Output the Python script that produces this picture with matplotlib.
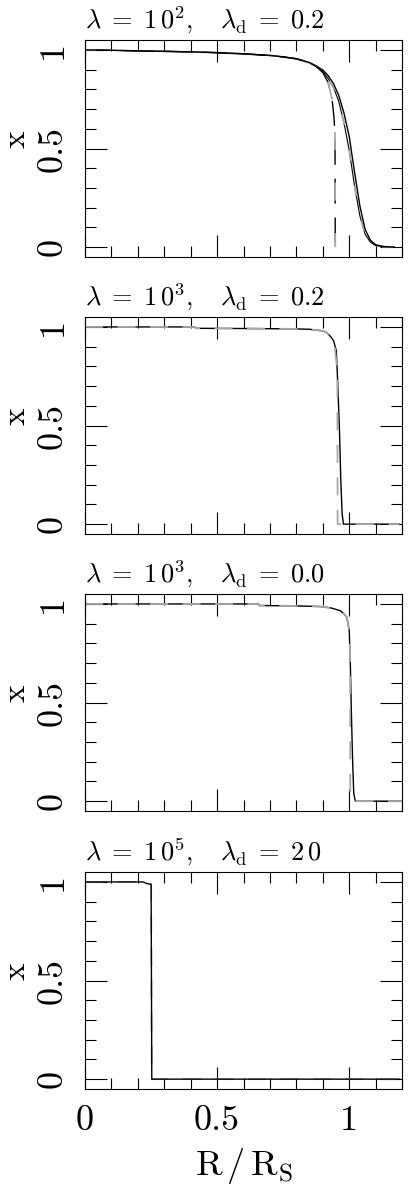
import numpy as np
import matplotlib
matplotlib.use("Agg")
import matplotlib.pyplot as plt
from matplotlib.ticker import MultipleLocator, FixedLocator

plt.rcParams['font.family'] = 'cmr10'
plt.rcParams['mathtext.fontset'] = 'cm'
plt.rcParams['axes.formatter.use_mathtext'] = True

titles = [r'$\lambda\;=\;1\,0^2,\ \ \ \lambda_{\rm d}\;=\;0.2$',
          r'$\lambda\;=\;1\,0^3,\ \ \ \lambda_{\rm d}\;=\;0.2$',
          r'$\lambda\;=\;1\,0^3,\ \ \ \lambda_{\rm d}\;=\;0.0$',
          r'$\lambda\;=\;1\,0^5,\ \ \ \lambda_{\rm d}\;=\;2\,0$']
xticks = [0, 0.5, 1]
xtick_labels = ['0', '0.5', '1']
yticks = [0, 0.5, 1]
ytick_labels = ['0', '0.5', '1']

# panel 1
x1 = [0, 0.1, 0.2, 0.3, 0.4, 0.5, 0.6, 0.7, 0.75, 0.8, 0.85, 0.88, 0.9, 0.92, 0.94,
      0.96, 0.98, 1.0, 1.02, 1.04, 1.06, 1.08, 1.1, 1.13, 1.17]
y1a = [1.0, 0.998, 0.995, 0.993, 0.99, 0.986, 0.98, 0.972, 0.965, 0.955, 0.936, 0.915,
       0.898, 0.87, 0.83, 0.77, 0.68, 0.56, 0.38, 0.21, 0.09, 0.035, 0.012, 0.003, 0.0]
y1b = [1.0, 0.998, 0.995, 0.993, 0.99, 0.986, 0.98, 0.972, 0.965, 0.955, 0.934, 0.91,
       0.89, 0.855, 0.81, 0.74, 0.63, 0.49, 0.31, 0.16, 0.065, 0.025, 0.008, 0.002, 0.0]
x1c = [0, 0.2, 0.4, 0.5, 0.6, 0.7, 0.8, 0.85, 0.88, 0.9, 0.92, 0.935, 0.942, 0.946, 0.947]
y1c = [1.0, 0.995, 0.99, 0.986, 0.98, 0.972, 0.955, 0.936, 0.91, 0.885, 0.835, 0.75,
       0.66, 0.566, 0.0]

# panel 2
x2 = [0, 0.415, 0.42, 0.6, 0.8, 0.85, 0.9, 0.915, 0.93, 0.941, 0.951, 0.956, 0.963,
      0.968, 0.973, 0.978, 1.0, 1.19]
y2a = [1.0, 1.0, 0.993, 0.992, 0.99, 0.988, 0.98, 0.971, 0.95, 0.929, 0.879, 0.727,
       0.475, 0.222, 0.054, 0.0, 0.0, 0.0]
x2c = [0, 0.415, 0.42, 0.6, 0.8, 0.85, 0.9, 0.915, 0.93, 0.945, 0.953, 0.955, 0.956, 1.19]
y2c = [1.0, 1.0, 0.993, 0.992, 0.99, 0.988, 0.98, 0.971, 0.95, 0.9, 0.8, 0.7, 0.0, 0.0]

# panel 3
x3 = [0, 0.3, 0.5, 0.655, 0.66, 0.8, 0.89, 0.93, 0.966, 0.98, 0.991, 1.0, 1.004,
      1.008, 1.013, 1.017, 1.023, 1.2]
y3a = [1.0, 1.0, 1.0, 1.0, 0.992, 0.99, 0.987, 0.98, 0.966, 0.95, 0.932, 0.864, 0.70,
       0.448, 0.19, 0.04, 0.0, 0.0]
x3c = [0, 0.3, 0.5, 0.655, 0.66, 0.8, 0.89, 0.93, 0.966, 0.98, 0.991, 1.0, 1.003,
       1.004, 1.2]
y3c = [1.0, 1.0, 1.0, 1.0, 0.992, 0.99, 0.987, 0.98, 0.966, 0.95, 0.932, 0.86, 0.75,
       0.0, 0.0]

# panel 4
x4 = [0, 0.22, 0.233, 0.25, 0.2525, 0.26, 1.19]
y4a = [1.0, 1.0, 0.992, 0.988, 0.0, 0.0, 0.0]

fig = plt.figure(figsize=(4.13, 11.92), dpi=100)
bottoms = [0.7844, 0.552, 0.3196, 0.0864]
axes = [fig.add_axes([0.206, b, 0.7676, 0.182]) for b in bottoms]

gray = '#a8a8a8'
# panel 1
ax = axes[0]
ax.plot(x1c, y1c, color='k', lw=1.0, dashes=(18, 10))
ax.plot(x1c, y1c, color=gray, lw=1.3, dashes=(10, 18))
ax.plot(x1, y1b, color='k', lw=0.8)
ax.plot(x1, y1b, color=gray, lw=1.3, dashes=(6, 14))
ax.plot(x1, y1a, color='k', lw=1.0)
# panel 2
ax = axes[1]
ax.plot(x2, y2a, color='k', lw=1.0)
ax.plot(x2c, y2c, color=gray, lw=1.3, dashes=(10, 8))
# panel 3
ax = axes[2]
ax.plot(x3, y3a, color='k', lw=1.0)
ax.plot(x3c, y3c, color=gray, lw=1.3, dashes=(10, 8))
# panel 4
ax = axes[3]
ax.plot(x4, y4a, color=gray, lw=1.3, dashes=(10, 8))
ax.plot(x4, y4a, color='k', lw=1.0)

for i, ax in enumerate(axes):
    ax.set_xlim(0, 1.2)
    ax.set_ylim(-0.05, 1.05)
    ax.xaxis.set_major_locator(FixedLocator(xticks))
    ax.xaxis.set_minor_locator(MultipleLocator(0.1))
    ax.yaxis.set_major_locator(FixedLocator(yticks))
    ax.yaxis.set_minor_locator(MultipleLocator(0.1))
    ax.tick_params(which='both', direction='in', top=True, right=True, width=0.8, colors='k')
    ax.tick_params(which='major', length=16)
    ax.tick_params(which='minor', length=8)
    ax.tick_params(axis='y', pad=12, labelsize=26)
    ax.tick_params(axis='x', pad=12, labelsize=26)
    ax.set_yticklabels(ytick_labels, rotation=90, va='center')
    if i < 3:
        ax.set_xticklabels([])
    else:
        ax.set_xticklabels(xtick_labels)
        ax.set_xlabel(r'$\rm R\,/\,R_S$', fontsize=26, labelpad=6)
    for s in ax.spines.values():
        s.set_linewidth(0.8)
    ax.set_ylabel('x', fontsize=24)
    ax.yaxis.set_label_coords(-0.172, 0.545)
    ax.set_title(titles[i], loc='left', fontsize=19, pad=8)

fig.savefig('out.png', dpi=100)
